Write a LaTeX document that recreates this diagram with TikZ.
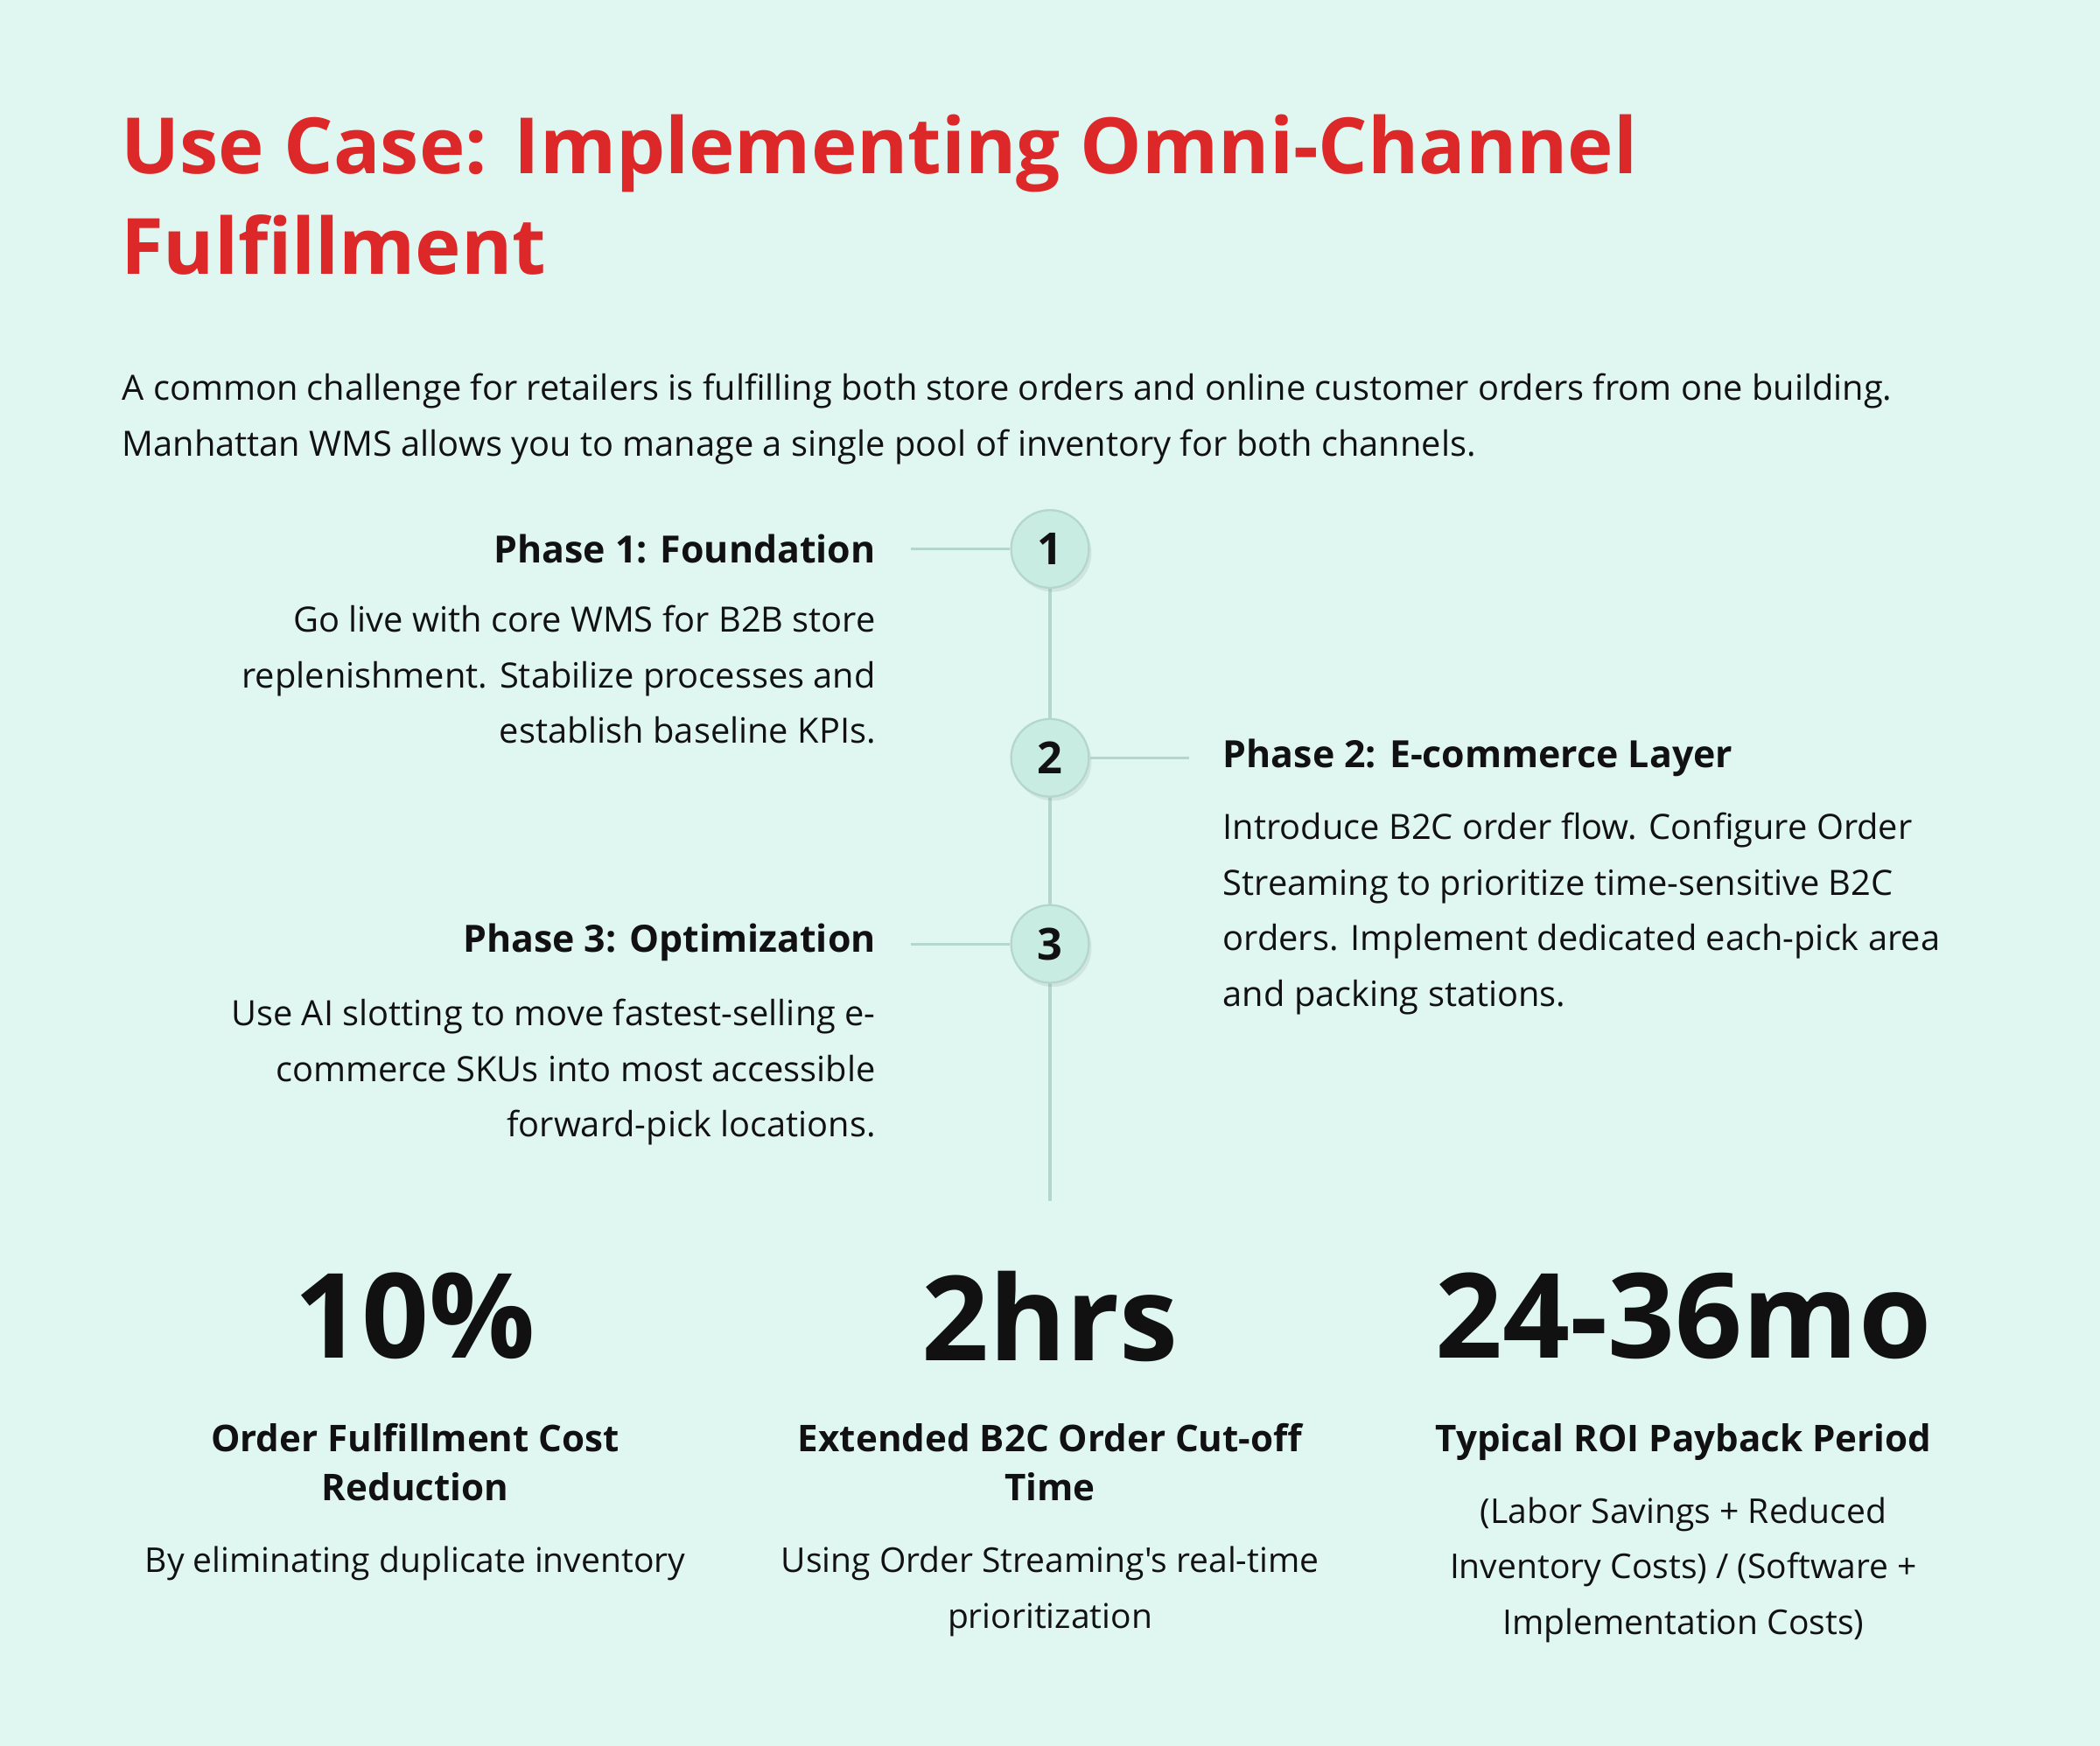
\documentclass[tikz,border=0pt]{standalone}
\usepackage{fontspec}
\setmainfont{Open Sans}[Ligatures=TeXOff]
\usetikzlibrary{shadows}
\definecolor{bg}{HTML}{E0F7F1}
\definecolor{red}{HTML}{DC2828}
\definecolor{ink}{HTML}{111111}
\definecolor{tl}{HTML}{B3D6CD}
\definecolor{circ}{HTML}{C8ECE2}
\begin{document}
\begin{tikzpicture}[x=1pt,y=-1pt,
  body/.style={inner sep=0,font=\fontsize{26}{41.5}\selectfont,text=ink},
  head/.style={inner sep=0,font=\fontsize{28}{36}\selectfont\bfseries,text=ink},
  big/.style={inner sep=0,font=\fontsize{88}{100}\selectfont\bfseries,text=ink},
  stitle/.style={inner sep=0,font=\fontsize{27.5}{36.5}\selectfont\bfseries,text=ink,align=center},
  sdesc/.style={inner sep=0,font=\fontsize{25.5}{41.5}\selectfont,text=ink,align=center},
  num/.style={circle,minimum size=58,inner sep=0,fill=circ,draw=tl,line width=1.5,
    font=\fontsize{33}{34}\selectfont\bfseries,text=ink,drop shadow={shadow xshift=2pt,shadow yshift=-3pt,opacity=0.15}},
  conn/.style={draw=tl,line width=2}]
\fill[bg] (0,0) rectangle (1568,1304);
\useasboundingbox (0,0) rectangle (1568,1304);
\node[inner sep=0,anchor=base west,font=\fontsize{58}{75}\selectfont\bfseries,text=red] (t1) at (90,130) {Use Case: Implementing Omni-Channel};
\node[inner sep=0,anchor=base west,font=\fontsize{58}{75}\selectfont\bfseries,text=red] (t2) at (90,205) {Fulfillment};
\node[body,anchor=north west,align=left] (intro) at (91,279) {A common challenge for retailers is fulfilling both store orders and online customer orders from one building.\\Manhattan WMS allows you to manage a single pool of inventory for both channels.};
\coordinate (top) at (784,410);
\coordinate (bot) at (784,897);
\draw[conn] (top) -- (bot);
\node[num] (n1) at (784,410) {1};
\node[num] (n2) at (784,566) {2};
\node[num] (n3) at (784,705) {3};
\node[head,anchor=east] (h1) at (654,410) {Phase 1: Foundation};
\node[body,anchor=north east,align=right] (d1) at (654,452) {Go live with core WMS for B2B store\\replenishment. Stabilize processes and\\establish baseline KPIs.};
\node[head,anchor=west] (h2) at (913,566) {Phase 2: E-commerce Layer};
\node[body,anchor=north west,align=left] (d2) at (913,607) {Introduce B2C order flow. Configure Order\\Streaming to prioritize time-sensitive B2C\\orders. Implement dedicated each-pick area\\and packing stations.};
\node[head,anchor=east] (h3) at (654,704) {Phase 3: Optimization};
\node[body,anchor=north east,align=right] (d3) at (654,746) {Use AI slotting to move fastest-selling e-\\commerce SKUs into most accessible\\forward-pick locations.};
\draw[conn] (680,410) -- (n1.west);
\draw[conn] (n2.east) -- (888,566);
\draw[conn] (680,705) -- (n3.west);
\node[big] (b1) at (310,983) {10\%};
\node[big] (b2) at (784,983) {2hrs};
\node[big] (b3) at (1257,983) {24-36mo};
\node[stitle,anchor=north] (s1) at (310,1063) {Order Fulfillment Cost\\Reduction};
\node[stitle,anchor=north] (s2) at (784,1063) {Extended B2C Order Cut-off\\Time};
\node[stitle,anchor=north] (s3) at (1257,1063) {Typical ROI Payback Period};
\node[sdesc,anchor=north] (e1) at (310,1155) {By eliminating duplicate inventory};
\node[sdesc,anchor=north] (e2) at (784,1155) {Using Order Streaming's real-time\\prioritization};
\node[sdesc,anchor=north] (e3) at (1257,1118) {(Labor Savings + Reduced\\Inventory Costs) / (Software +\\Implementation Costs)};
\end{tikzpicture}
\end{document}
